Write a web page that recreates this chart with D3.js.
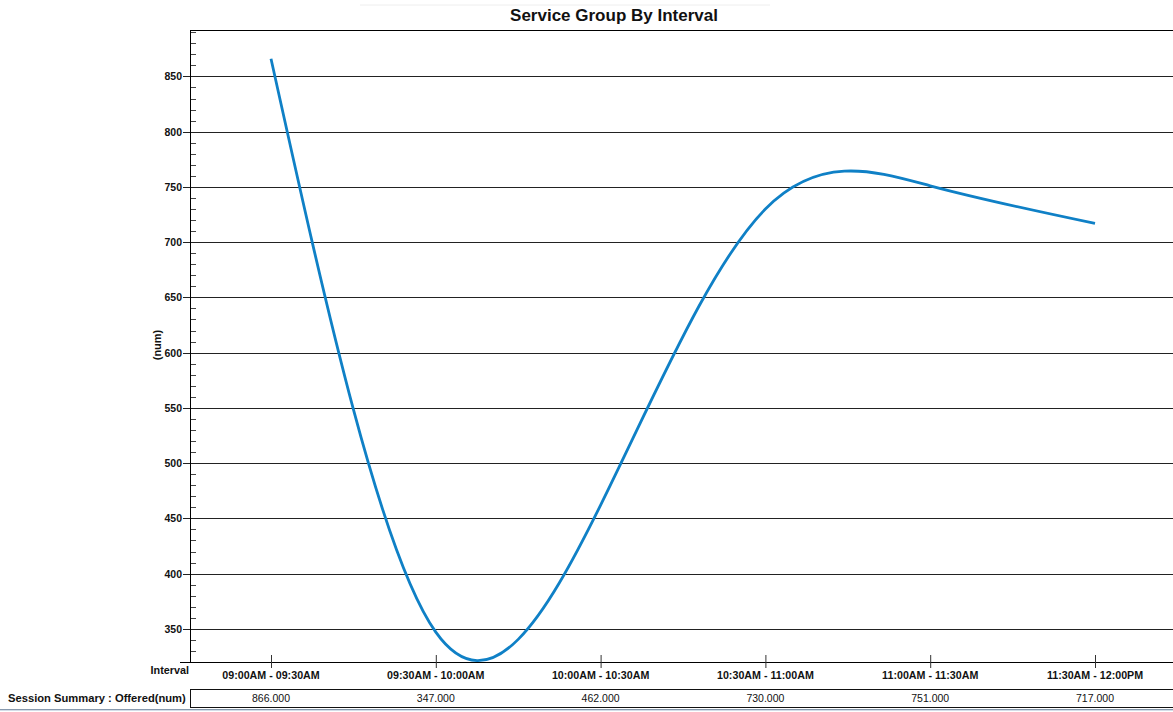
<!DOCTYPE html>
<html>
<head>
<meta charset="utf-8">
<script src="https://cdn.jsdelivr.net/npm/d3@7"></script>
<style>
  body { margin: 0; background: #fff; }
  svg text { font-family: "Liberation Sans", Arial, sans-serif; fill: #111; }
</style>
</head>
<body>
<svg id="chart" width="1173" height="712"></svg>
<script>
const intervals = ["09:00AM - 09:30AM", "09:30AM - 10:00AM", "10:00AM - 10:30AM",
                   "10:30AM - 11:00AM", "11:00AM - 11:30AM", "11:30AM - 12:00PM"];
const offered = [866, 347, 462, 730, 751, 717];
const yTicks = [350, 400, 450, 500, 550, 600, 650, 700, 750, 800, 850];
const yDomain = [320, 892];

const svg = d3.select("#chart");
const W = 1173;
const plot = {left: 190, top: 30, bottom: 662};

const x = d3.scalePoint().domain(intervals).range([271, 1095]);
const y = d3.scaleLinear().domain(yDomain).range([plot.bottom, plot.top]);

// faint line over title
svg.append("line").attr("x1", 360).attr("x2", 770).attr("y1", 5).attr("y2", 5)
    .attr("stroke", "#eeeeee");

svg.append("text").attr("x", 614).attr("y", 21).attr("text-anchor", "middle")
    .style("font-size", "17px").style("font-weight", "bold").text("Service Group By Interval");

// top border
svg.append("line").attr("x1", plot.left).attr("x2", W).attr("y1", plot.top + 0.5).attr("y2", plot.top + 0.5)
    .attr("stroke", "#000");

// gridlines + major ticks
const grid = svg.append("g");
grid.selectAll("line").data(yTicks).join("line")
    .attr("x1", 183).attr("x2", W)
    .attr("y1", d => Math.round(y(d)) + 0.5).attr("y2", d => Math.round(y(d)) + 0.5)
    .attr("stroke", "#222");
grid.selectAll("text").data(yTicks).join("text")
    .attr("x", 182).attr("y", d => y(d) + 4).attr("text-anchor", "end")
    .style("font-size", "10.5px").style("font-weight", "bold").text(d => d);

// minor ticks every 10
const minor = d3.range(330, 891, 10).filter(v => v % 50 !== 0);
svg.append("g").selectAll("line").data(minor).join("line")
    .attr("x1", plot.left).attr("x2", 196)
    .attr("y1", d => Math.round(y(d)) + 0.5).attr("y2", d => Math.round(y(d)) + 0.5)
    .attr("stroke", "#444");

// y axis line
svg.append("line").attr("x1", plot.left + 0.5).attr("x2", plot.left + 0.5)
    .attr("y1", plot.top).attr("y2", plot.bottom).attr("stroke", "#000");

svg.append("text").attr("transform", "translate(161,345) rotate(-90)")
    .attr("text-anchor", "middle").style("font-size", "11px").style("font-weight", "bold").text("(num)");

// x axis
svg.append("line").attr("x1", 180).attr("x2", W)
    .attr("y1", plot.bottom + 0.5).attr("y2", plot.bottom + 0.5).attr("stroke", "#000");

const xAxis = svg.append("g");
xAxis.selectAll("line").data(intervals).join("line")
    .attr("x1", d => x(d) + 0.5).attr("x2", d => x(d) + 0.5)
    .attr("y1", plot.bottom - 7).attr("y2", plot.bottom + 6).attr("stroke", "#333");
xAxis.selectAll("text").data(intervals).join("text")
    .attr("x", d => x(d)).attr("y", 679).attr("text-anchor", "middle")
    .style("font-size", "10.7px").style("font-weight", "bold").text(d => d);

svg.append("text").attr("x", 189).attr("y", 674).attr("text-anchor", "end")
    .style("font-size", "10.8px").style("font-weight", "bold").text("Interval");

// line
const line = d3.line()
    .x((d, i) => x(intervals[i]))
    .y(d => y(d))
    .curve(d3.curveNatural);

svg.append("path").datum(offered)
    .attr("d", line)
    .attr("fill", "none")
    .attr("stroke", "#0f80c6")
    .attr("stroke-width", 2.8);

// summary table row
svg.append("rect").attr("x", plot.left + 0.5).attr("y", 689.5).attr("width", W).attr("height", 18)
    .attr("fill", "none").attr("stroke", "#111");
svg.append("text").attr("x", 8).attr("y", 702)
    .style("font-size", "11.2px").style("font-weight", "bold").text("Session Summary : Offered(num)");
svg.append("g").selectAll("text").data(offered).join("text")
    .attr("x", (d, i) => x(intervals[i])).attr("y", 702).attr("text-anchor", "middle")
    .style("font-size", "10.5px").text(d => d3.format(".3f")(d));

// bottom frame lines
svg.append("line").attr("x1", 0).attr("x2", W).attr("y1", 709.5).attr("y2", 709.5).attr("stroke", "#8799ad");
svg.append("line").attr("x1", 0).attr("x2", W).attr("y1", 710.5).attr("y2", 710.5).attr("stroke", "#d4dde8");
</script>
</body>
</html>
